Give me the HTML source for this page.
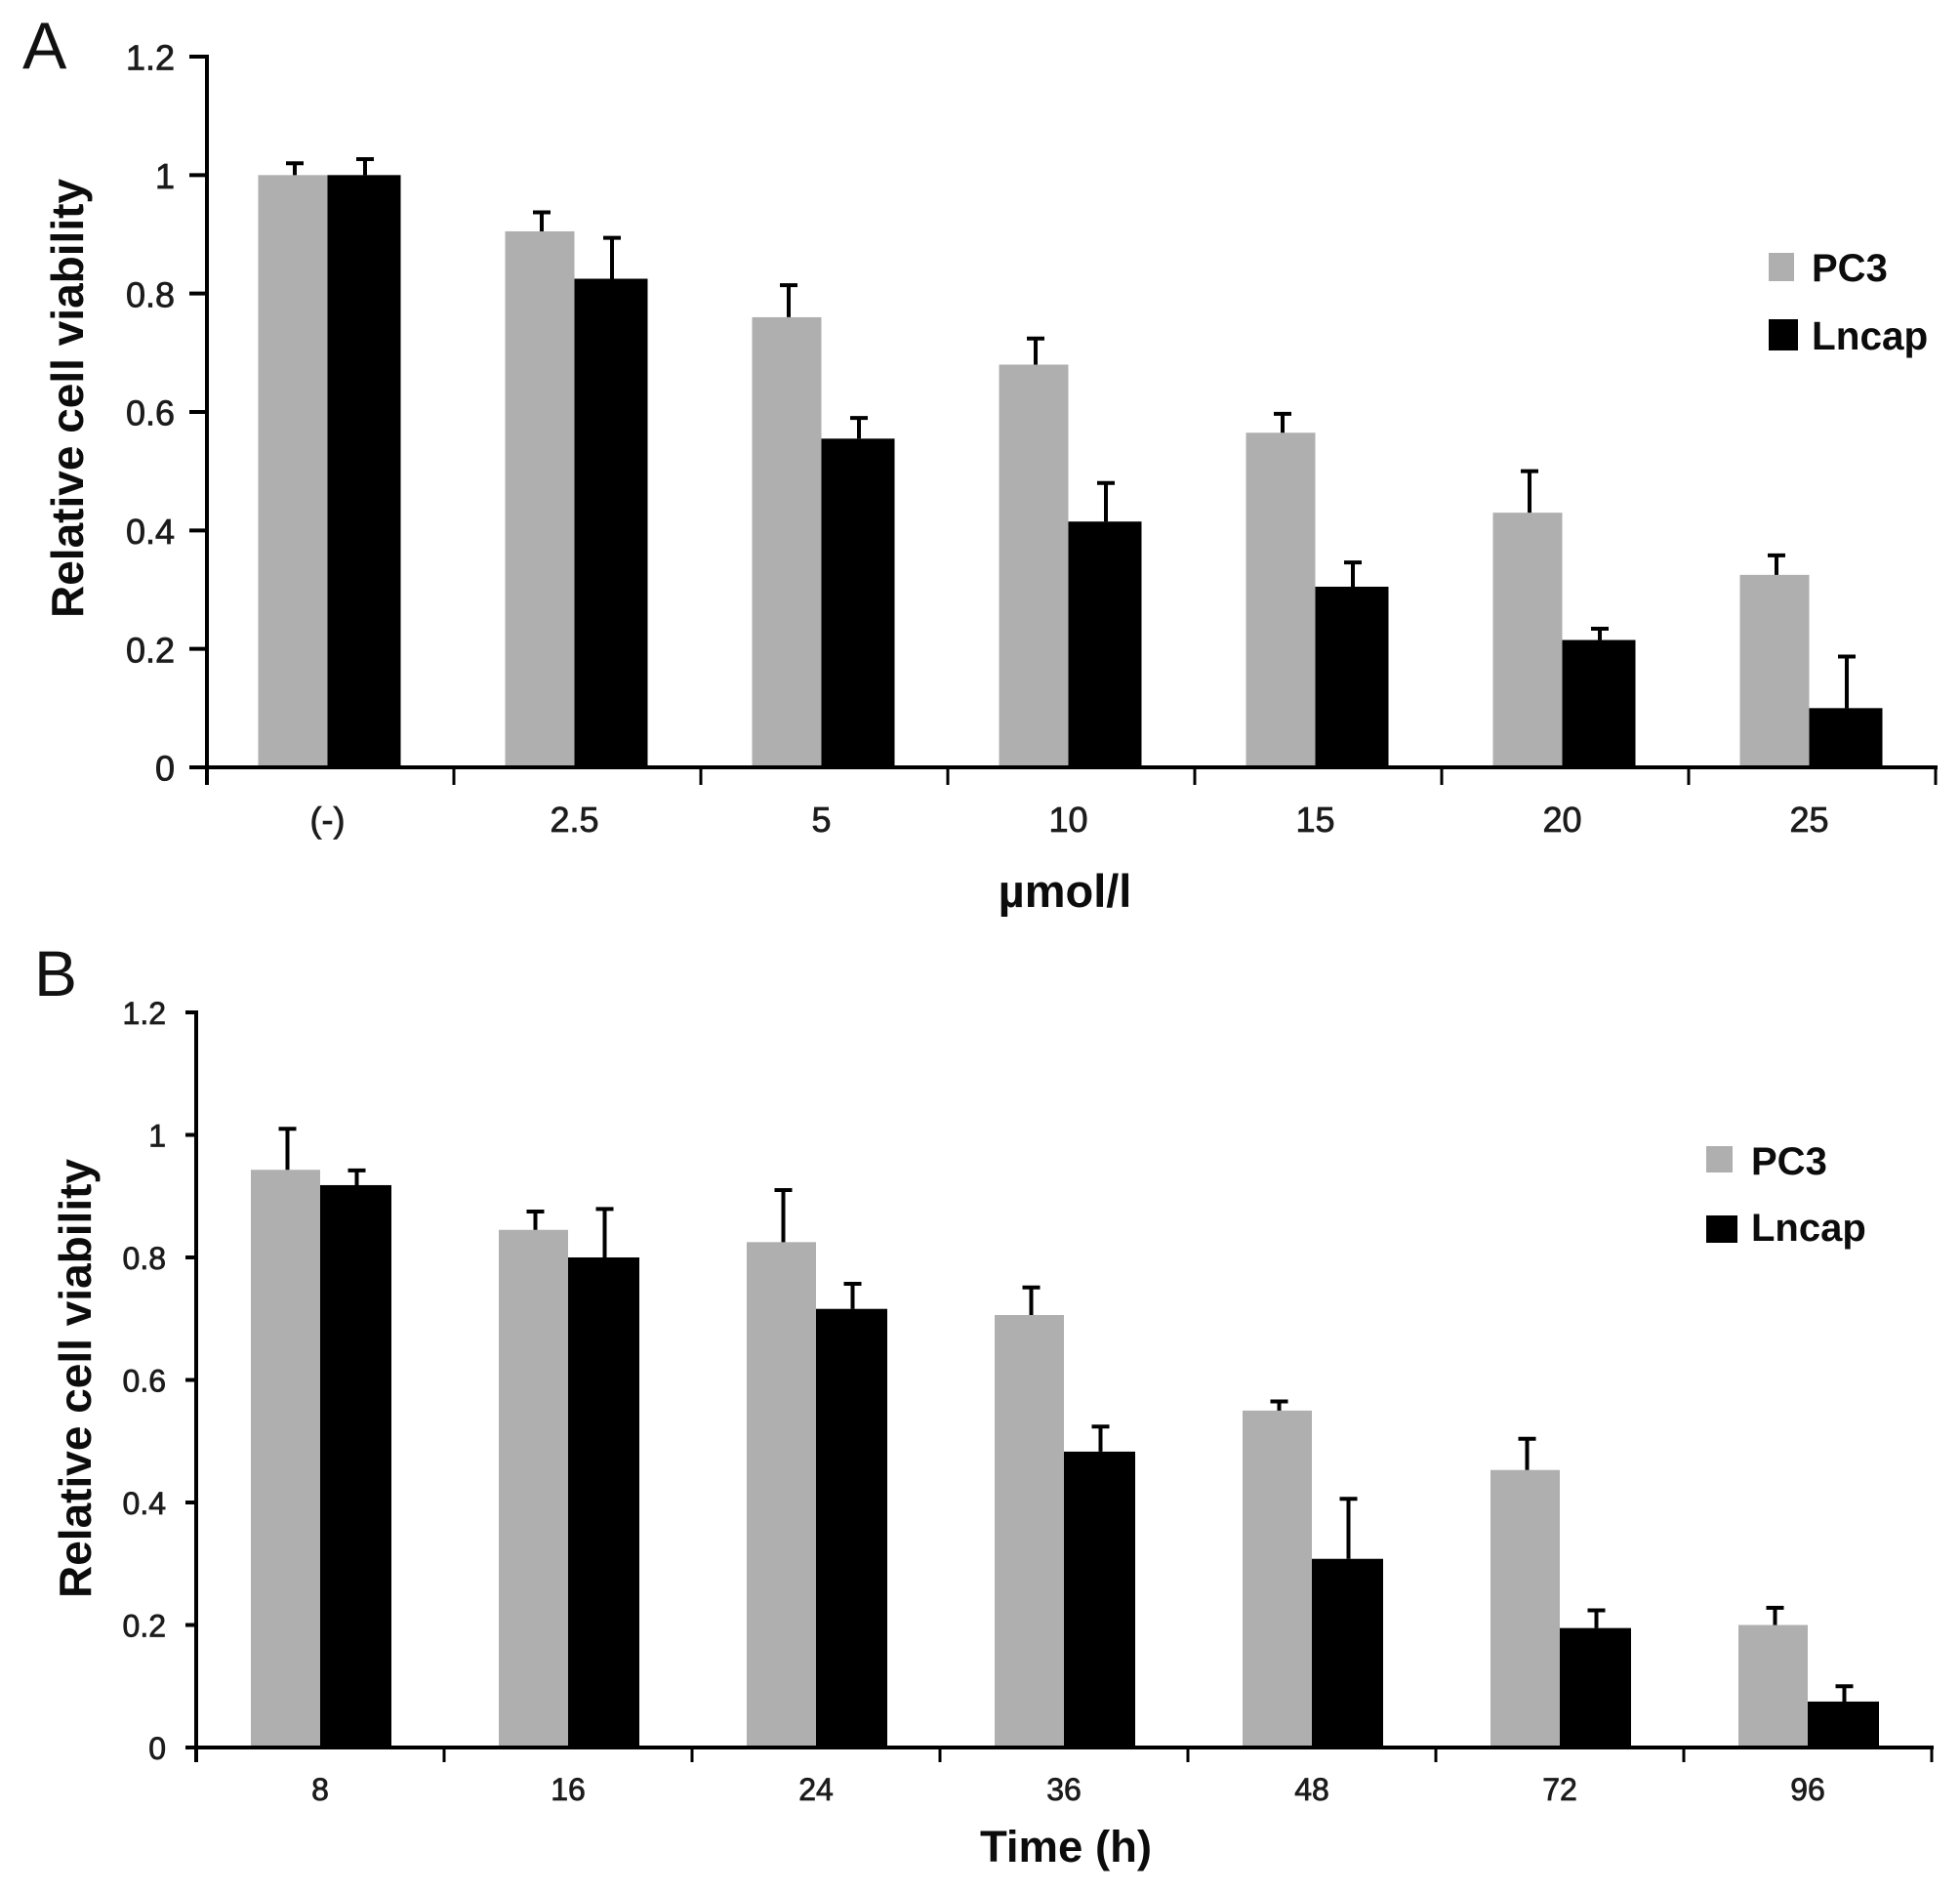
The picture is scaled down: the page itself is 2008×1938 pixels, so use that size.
<!DOCTYPE html>
<html lang="en">
<head>
<meta charset="utf-8">
<title>Relative cell viability by concentration and time</title>
<style>
  html, body { margin: 0; padding: 0; background: #fff; }
  svg { display: block; }
  text { font-family: "Liberation Sans", Arial, sans-serif; }
  .tick { fill: #1c1c1c; stroke: #1c1c1c; stroke-width: 0.8px; }
  .title { font-weight: bold; fill: #0c0c0c; }
  .letter { fill: #111; }
</style>
</head>
<body>
<svg id="figure" xmlns="http://www.w3.org/2000/svg" width="2008" height="1938" viewBox="0 0 2008 1938">
  <rect x="0" y="0" width="2008" height="1938" fill="#ffffff"/>

  <text class="letter" x="23" y="70" font-size="68">A</text>
  <text class="letter" x="35" y="1020" font-size="66">B</text>

  <text class="title" transform="translate(85 408) rotate(-90)" text-anchor="middle" font-size="46">Relative cell viability</text>
  <text class="title" transform="translate(93 1412) rotate(-90)" text-anchor="middle" font-size="46">Relative cell viability</text>

  <text class="title" x="1091" y="929" text-anchor="middle" font-size="47">µmol/l</text>
  <text class="title" x="1092" y="1907" text-anchor="middle" font-size="45.5">Time (h)</text>

  <g>
    <rect x="1812" y="259" width="26" height="29" fill="#afafaf"/>
    <text class="title" x="1856" y="288" font-size="40">PC3</text>
    <rect x="1812" y="327" width="30" height="32" fill="#000000"/>
    <text class="title" x="1856" y="358" font-size="40.5">Lncap</text>
  </g>
  <g>
    <rect x="1748" y="1174" width="27" height="27" fill="#afafaf"/>
    <text class="title" x="1794" y="1203" font-size="40">PC3</text>
    <rect x="1748" y="1245" width="32" height="28" fill="#000000"/>
    <text class="title" x="1794" y="1271" font-size="40">Lncap</text>
  </g>
</svg>

<script>
// Shared y-axis ticks
const yTickValues = [0, 0.2, 0.4, 0.6, 0.8, 1, 1.2];
const yTickLabels = ['0', '0.2', '0.4', '0.6', '0.8', '1', '1.2'];

// Panel A: dose response
const doseCategories = ['(-)', '2.5', '5', '10', '15', '20', '25'];
const dosePc3 = [1.0, 0.905, 0.76, 0.68, 0.565, 0.43, 0.325];
const doseLncap = [1.0, 0.825, 0.555, 0.415, 0.305, 0.215, 0.10];
const dosePc3Err = [0.02, 0.032, 0.054, 0.044, 0.032, 0.07, 0.033];
const doseLncapErr = [0.027, 0.069, 0.035, 0.065, 0.041, 0.019, 0.087];

// Panel B: time course
const timeCategories = ['8', '16', '24', '36', '48', '72', '96'];
const timePc3 = [0.943, 0.845, 0.825, 0.706, 0.55, 0.453, 0.2];
const timeLncap = [0.918, 0.80, 0.716, 0.483, 0.308, 0.195, 0.075];
const timePc3Err = [0.067, 0.03, 0.085, 0.045, 0.015, 0.051, 0.028];
const timeLncapErr = [0.024, 0.079, 0.041, 0.041, 0.098, 0.029, 0.025];

const NS = 'http://www.w3.org/2000/svg';
const figure = document.getElementById('figure');

function make(parent, tag, props, content) {
  const node = document.createElementNS(NS, tag);
  for (const key in props) node.setAttribute(key, props[key]);
  if (content !== undefined) node.textContent = content;
  parent.appendChild(node);
  return node;
}

function drawPanel(p, categories, pc3, lncap, pc3Err, lncapErr) {
  const yScale = v => p.y0 - (v / p.yMax) * (p.y0 - p.yTop);
  const step = (p.xEnd - p.left) / categories.length;
  const tickX = i => p.left + i * step;
  const splitX = i => tickX(i) + step / 2 + p.splitOffset;

  const chart = make(figure, 'g', {});
  
  

  categories.forEach((cat, i) => {
    const sx = splitX(i);
    const group = make(chart, 'g', {});
    
    

    const grayBar = make(group, 'rect', {
      x: sx - p.grayWidth, y: yScale(pc3[i]), width: p.grayWidth,
      height: p.y0 - yScale(pc3[i]), fill: '#afafaf'
    });
    
    

    const blackBar = make(group, 'rect', {
      x: sx, y: yScale(lncap[i]), width: p.blackWidth,
      height: p.y0 - yScale(lncap[i]), fill: '#000000'
    });
    
    

    const grayX = sx - p.grayWidth / 2 + 2;
    const grayTop = yScale(pc3[i] + pc3Err[i]);
    const grayErr = make(group, 'path', {
      d: 'M' + grayX + ' ' + yScale(pc3[i]) + 'V' + grayTop +
         'M' + (grayX - p.cap) + ' ' + grayTop + 'H' + (grayX + p.cap),
      stroke: '#000', 'stroke-width': 4, fill: 'none'
    });
    
    

    const blackX = sx + p.blackWidth / 2 + 1;
    const blackTop = yScale(lncap[i] + lncapErr[i]);
    const blackErr = make(group, 'path', {
      d: 'M' + blackX + ' ' + yScale(lncap[i]) + 'V' + blackTop +
         'M' + (blackX - p.cap) + ' ' + blackTop + 'H' + (blackX + p.cap),
      stroke: '#000', 'stroke-width': 4, fill: 'none'
    });
    
    

    const label = make(group, 'text', {
      x: sx, y: p.xLabelY, 'text-anchor': 'middle',
      'font-size': p.xFont, class: 'tick'
    }, cat);
    
    
  });

  const yAxis = make(chart, 'g', {});
  
  
  const yLine = make(yAxis, 'line', {
    x1: p.left, x2: p.left, y1: yScale(p.yMax) - 2, y2: p.y0 + p.xTick,
    stroke: '#000', 'stroke-width': 4
  });
  
  

  yTickValues.forEach((v, i) => {
    const mark = make(yAxis, 'line', {
      x1: p.left - p.yTick, x2: p.left, y1: yScale(v), y2: yScale(v),
      stroke: '#000', 'stroke-width': 4
    });
    
    

    const text = make(yAxis, 'text', {
      x: p.yLabelX, y: yScale(v) + p.yFont * 0.35 + 1, 'text-anchor': 'end',
      'font-size': p.yFont, class: 'tick'
    }, yTickLabels[i]);
    
    
  });

  const xAxis = make(chart, 'g', {});
  
  
  const xLine = make(xAxis, 'line', {
    x1: p.left - p.yTick, x2: p.xEnd + 2, y1: p.y0, y2: p.y0,
    stroke: '#000', 'stroke-width': 4
  });
  
  

  for (let i = 0; i <= categories.length; i++) {
    const mark = make(xAxis, 'line', {
      x1: tickX(i), x2: tickX(i), y1: p.y0, y2: p.y0 + p.xTick,
      stroke: '#000', 'stroke-width': 3
    });
    
    
  }
}

drawPanel({
  id: 'panel-a', left: 212, xEnd: 1983, y0: 786, yTop: 58, yMax: 1.2,
  splitOffset: -3, grayWidth: 71, blackWidth: 75, cap: 9,
  yTick: 18, xTick: 18, yLabelX: 179, yFont: 36, xFont: 36, xLabelY: 852
}, doseCategories, dosePc3, doseLncap, dosePc3Err, doseLncapErr);

drawPanel({
  id: 'panel-b', left: 201, xEnd: 1979, y0: 1790, yTop: 1037, yMax: 1.2,
  splitOffset: 0, grayWidth: 71, blackWidth: 73, cap: 9,
  yTick: 11, xTick: 15, yLabelX: 170, yFont: 32, xFont: 32, xLabelY: 1844
}, timeCategories, timePc3, timeLncap, timePc3Err, timeLncapErr);
</script>
</body>
</html>
